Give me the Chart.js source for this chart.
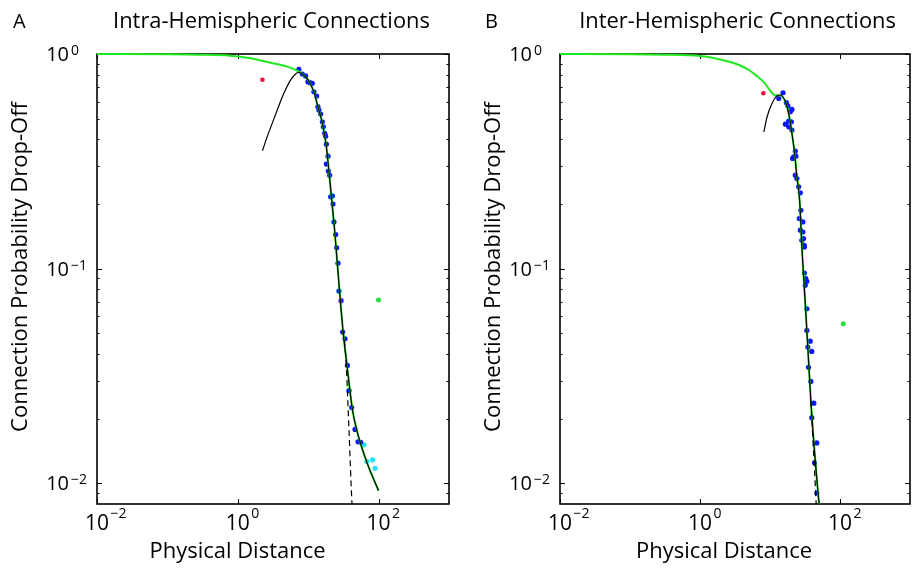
<!DOCTYPE html>
<html>
<head>
<meta charset="utf-8">
<script src="https://cdn.jsdelivr.net/npm/chart.js@4.4.1/dist/chart.umd.min.js"></script>
<style>
html,body{margin:0;padding:0;background:#ffffff;}
#wrap{position:relative;width:914px;height:568px;overflow:hidden;background:#ffffff;}
#wrap canvas{position:absolute;left:0;top:0;}
</style>
</head>
<body>
<div id="wrap">
<canvas id="chartA" width="914" height="568"></canvas>
<canvas id="chartB" width="914" height="568"></canvas>
</div>
<script>
// ---------- tick definitions ----------
const xTickValues = [0.01, 1, 100];
const xTickExps = ['\u22122', '0', '2'];
const yTickValues = [1, 0.1, 0.01];
const yTickExps = ['0', '\u22121', '\u22122'];
const yMinorTickValues = [0.9, 0.8, 0.7, 0.6, 0.5, 0.4, 0.3, 0.2,
                          0.09, 0.08, 0.07, 0.06, 0.05, 0.04, 0.03, 0.02, 0.009];

// ---------- Panel A: intra-hemispheric ----------
const intraBlueX = [7.38, 8.24, 9.18, 9.91, 10.57, 11.43, 12.05, 13.18, 13.74, 14.19, 15.03, 15.89, 16.41, 17.14, 17.70, 18.11, 19.10, 18.11, 19.32, 20.18, 20.84, 22.03, 22.49, 23.23, 24.55, 25.41, 26.49, 27.35, 29.24, 30.90, 33.34, 36.06, 38.02, 41.50, 46.24, 51.05, 55.72];
const intraBlueY = [0.848, 0.807, 0.790, 0.742, 0.735, 0.730, 0.667, 0.637, 0.568, 0.548, 0.525, 0.483, 0.458, 0.427, 0.414, 0.380, 0.334, 0.307, 0.285, 0.272, 0.216, 0.218, 0.200, 0.165, 0.144, 0.125, 0.106, 0.0786, 0.0709, 0.0506, 0.0471, 0.0354, 0.0270, 0.0225, 0.0178, 0.0156, 0.0155];
const intraCyanX = [62.1, 67.9, 81.8, 89.1];
const intraCyanY = [0.0151, 0.01265, 0.01285, 0.01173];
const intraRedX = [2.24];
const intraRedY = [0.759];
const intraGreenDotX = [99.7];
const intraGreenDotY = [0.0714];
const intraGreenCurveX = [0.01, 0.1, 0.3, 0.785, 1.51, 2.91, 5.04, 7.0, 8.24, 9.48, 10.5, 12.05, 13.74, 15.89, 18.11, 20.84, 23.77, 27.1, 31.2, 36.06, 42.5, 50.0, 69.5, 99.7];
const intraGreenCurveY = [1.0, 0.998, 0.993, 0.982, 0.955, 0.911, 0.873, 0.836, 0.807, 0.773, 0.735, 0.665, 0.568, 0.475, 0.37, 0.235, 0.15, 0.088, 0.0515, 0.034, 0.022, 0.0172, 0.0123, 0.00924];
const intraBlackCurveX = [2.24, 2.61, 3.08, 3.63, 4.51, 5.61, 6.62, 7.38, 8.24, 9.48, 10.5, 12.05, 13.74, 15.89, 18.11, 20.84, 23.77, 27.1, 31.2, 36.06, 42.5, 50.0, 69.5, 99.7];
const intraBlackCurveY = [0.354, 0.411, 0.475, 0.548, 0.656, 0.756, 0.807, 0.821, 0.807, 0.773, 0.735, 0.665, 0.568, 0.475, 0.37, 0.235, 0.15, 0.088, 0.0515, 0.034, 0.022, 0.0172, 0.0123, 0.00924];
const intraDashedX = [31.2, 34.1, 38.0, 41.9, 42.6];
const intraDashedY = [0.0515, 0.0394, 0.0176, 0.008, 0.0075];

// ---------- Panel B: inter-hemispheric ----------
const interBlueX = [15.35, 13.34, 17.14, 18.07, 20.57, 19.54, 18.49, 20.18, 16.6, 18.49, 20.57, 23.0, 21.8, 23.44, 21.04, 23.0, 24.22, 25.64, 27.1, 27.6, 26.21, 29.5, 27.1, 29.5, 30.1, 28.51, 30.8, 31.0, 31.0, 32.5, 33.6, 31.9, 33.6, 33.6, 37.5, 34.7, 39.5, 35.5, 38.3, 42.3, 39.5, 46.6, 43.2, 46.6];
const interBlueY = [0.660, 0.621, 0.593, 0.572, 0.552, 0.538, 0.487, 0.483, 0.471, 0.458, 0.442, 0.3526, 0.332, 0.334, 0.326, 0.2724, 0.263, 0.2404, 0.2254, 0.187, 0.171, 0.165, 0.151, 0.148, 0.138, 0.1355, 0.1285, 0.126, 0.0954, 0.0898, 0.0872, 0.0836, 0.0650, 0.0515, 0.0459, 0.0431, 0.0411, 0.0347, 0.0298, 0.0236, 0.0202, 0.0154, 0.01244, 0.0090];
const interRedX = [8.04];
const interRedY = [0.656];
const interGreenDotX = [111.4];
const interGreenDotY = [0.0554];
const interGreenCurveX = [0.01, 0.1, 0.3, 1.0, 2.61, 3.61, 5.0, 6.5, 8.17, 9.93, 11.7, 14.09, 16.6, 18.49, 20.57, 22.49, 24.22, 26.5, 28.7, 31.7, 34.9, 38.3, 43.2, 50.4, 52.2];
const interGreenCurveY = [1.0, 0.998, 0.993, 0.979, 0.921, 0.889, 0.842, 0.789, 0.740, 0.679, 0.644, 0.640, 0.599, 0.529, 0.427, 0.344, 0.2676, 0.208, 0.1217, 0.0711, 0.0416, 0.0243, 0.0142, 0.0080, 0.00745];
const interBlackCurveX = [8.17, 9.10, 10.71, 12.61, 14.09, 16.6, 18.49, 20.57, 22.49, 24.22, 26.5, 28.7, 31.7, 34.9, 38.3, 43.2, 50.4, 52.2];
const interBlackCurveY = [0.434, 0.510, 0.589, 0.639, 0.644, 0.599, 0.529, 0.427, 0.344, 0.2676, 0.208, 0.1217, 0.0711, 0.0416, 0.0243, 0.0142, 0.0080, 0.00745];
const interDashedX = [38.3, 45.7, 46.1];
const interDashedY = [0.0243, 0.008, 0.0075];

// ---------- helpers ----------
const FONT = "'Open Sans', 'DejaVu Sans', sans-serif";
function pts(xs, ys) { return xs.map((x, i) => ({ x: x, y: ys[i] })); }
function fitSize(ctx, text, width) {
  ctx.font = '100px ' + FONT;
  return 100 * width / ctx.measureText(text).width;
}

const decorPlugin = {
  id: 'decor',
  beforeDatasetsDraw(chart, args, o) {
    const ctx = chart.ctx, a = chart.chartArea, x = chart.scales.x, y = chart.scales.y;
    ctx.save();
    ctx.strokeStyle = '#000';
    ctx.lineWidth = 1;
    ctx.beginPath();
    xTickValues.forEach(v => {
      const p = Math.round(x.getPixelForValue(v)) + 0.5;
      ctx.moveTo(p, a.bottom); ctx.lineTo(p, a.bottom - 5);
      ctx.moveTo(p, a.top); ctx.lineTo(p, a.top + 5);
    });
    yTickValues.forEach(v => {
      const p = Math.round(y.getPixelForValue(v)) + 0.5;
      ctx.moveTo(a.left, p); ctx.lineTo(a.left + 5, p);
      ctx.moveTo(a.right, p); ctx.lineTo(a.right - 5, p);
    });
    yMinorTickValues.forEach(v => {
      const p = Math.round(y.getPixelForValue(v)) + 0.5;
      ctx.moveTo(a.left, p); ctx.lineTo(a.left + 2.5, p);
      ctx.moveTo(a.right, p); ctx.lineTo(a.right - 2.5, p);
    });
    ctx.stroke();
    ctx.lineWidth = 1.6;
    ctx.strokeRect(a.left, a.top, a.right - a.left, a.bottom - a.top);
    ctx.restore();
  },
  afterDraw(chart, args, o) {
    const ctx = chart.ctx, a = chart.chartArea, x = chart.scales.x, y = chart.scales.y;
    ctx.save();
    ctx.fillStyle = '#000';
    ctx.textBaseline = 'alphabetic';
    // x tick labels
    xTickValues.forEach((v, i) => {
      const p = x.getPixelForValue(v);
      ctx.font = '21px ' + FONT;
      const bw = ctx.measureText('10').width;
      ctx.textAlign = 'center';
      ctx.fillText('10', p, 530);
      ctx.font = '14px ' + FONT;
      ctx.textAlign = 'left';
      ctx.fillText(xTickExps[i], p + bw / 2 + 1.5, 518);
    });
    // y tick labels
    yTickValues.forEach((v, i) => {
      const p = y.getPixelForValue(v);
      ctx.font = '20px ' + FONT;
      ctx.textAlign = 'right';
      ctx.fillText('10', a.left - 28, p + 7);
      ctx.font = '14px ' + FONT;
      ctx.textAlign = 'left';
      ctx.fillText(yTickExps[i], a.left - 26, p + 1);
    });
    // panel letter
    ctx.font = '20px ' + FONT;
    ctx.textAlign = 'left';
    ctx.fillText(o.letter, o.letterX, 27.5);
    // title
    ctx.font = fitSize(ctx, o.title, 317).toFixed(2) + 'px ' + FONT;
    ctx.textAlign = 'center';
    ctx.fillText(o.title, o.titleX, 28);
    // x label
    ctx.font = fitSize(ctx, o.xLabel, 176).toFixed(2) + 'px ' + FONT;
    ctx.fillText(o.xLabel, o.xLabelX, 558);
    // y label
    ctx.font = fitSize(ctx, o.yLabel, 330).toFixed(2) + 'px ' + FONT;
    ctx.translate(o.yLabelX, 267);
    ctx.rotate(-Math.PI / 2);
    ctx.textBaseline = 'middle';
    ctx.fillText(o.yLabel, 0, 0);
    ctx.restore();
  }
};

function lineDs(xs, ys, color, width, order, dash) {
  return {
    data: pts(xs, ys), showLine: true, pointRadius: 0, borderColor: color,
    borderWidth: width, borderDash: dash || [], cubicInterpolationMode: 'monotone',
    fill: false, order: order, clip: { left: 0, top: 2, right: 0, bottom: 0 }
  };
}
function dotDs(xs, ys, color, r, order) {
  return {
    data: pts(xs, ys), showLine: false, pointRadius: r, pointBorderWidth: 0,
    backgroundColor: color, borderColor: color, order: order, clip: 3
  };
}

function makeChart(id, left, right, datasets, decor) {
  return new Chart(document.getElementById(id), {
    type: 'scatter',
    data: { datasets: datasets },
    options: {
      responsive: false, animation: false, devicePixelRatio: 1, events: [],
      layout: { padding: { left: left, top: 54, right: 914 - right, bottom: 568 - 504 } },
      plugins: { legend: { display: false }, tooltip: { enabled: false }, decor: decor },
      scales: {
        x: { type: 'logarithmic', min: 0.01, max: 1000, display: false },
        y: { type: 'logarithmic', min: 0.008, max: 1, display: false }
      }
    },
    plugins: [decorPlugin]
  });
}

const BLUE = '#0a14ff', CYAN = '#22e0ff', RED = '#f0103a', GREEN = '#1ee81e', DOTGREEN = '#22e040';

makeChart('chartA', 97, 449, [
  lineDs(intraBlackCurveX, intraBlackCurveY, '#000000', 1.2, 0),
  lineDs(intraDashedX, intraDashedY, '#000000', 1.2, 1, [6, 4]),
  lineDs(intraGreenCurveX, intraGreenCurveY, GREEN, 2, 2),
  dotDs(intraBlueX, intraBlueY, BLUE, 2.6, 3),
  dotDs(intraCyanX, intraCyanY, CYAN, 2.6, 4),
  dotDs(intraRedX, intraRedY, RED, 2.3, 5),
  dotDs(intraGreenDotX, intraGreenDotY, DOTGREEN, 2.5, 6)
], {
  letter: 'A', letterX: 13, title: 'Intra-Hemispheric Connections', titleX: 271.5,
  xLabel: 'Physical Distance', xLabelX: 237.5,
  yLabel: 'Connection Probability Drop-Off', yLabelX: 21
});

makeChart('chartB', 560, 912.5, [
  lineDs(interBlackCurveX, interBlackCurveY, '#000000', 1.2, 0),
  lineDs(interDashedX, interDashedY, '#000000', 1.2, 1, [6, 4]),
  lineDs(interGreenCurveX, interGreenCurveY, GREEN, 2, 2),
  dotDs(interBlueX, interBlueY, BLUE, 2.6, 3),
  dotDs(interRedX, interRedY, RED, 2.3, 5),
  dotDs(interGreenDotX, interGreenDotY, DOTGREEN, 2.5, 6)
], {
  letter: 'B', letterX: 485, title: 'Inter-Hemispheric Connections', titleX: 737.5,
  xLabel: 'Physical Distance', xLabelX: 724,
  yLabel: 'Connection Probability Drop-Off', yLabelX: 494
});
</script>
</body>
</html>
